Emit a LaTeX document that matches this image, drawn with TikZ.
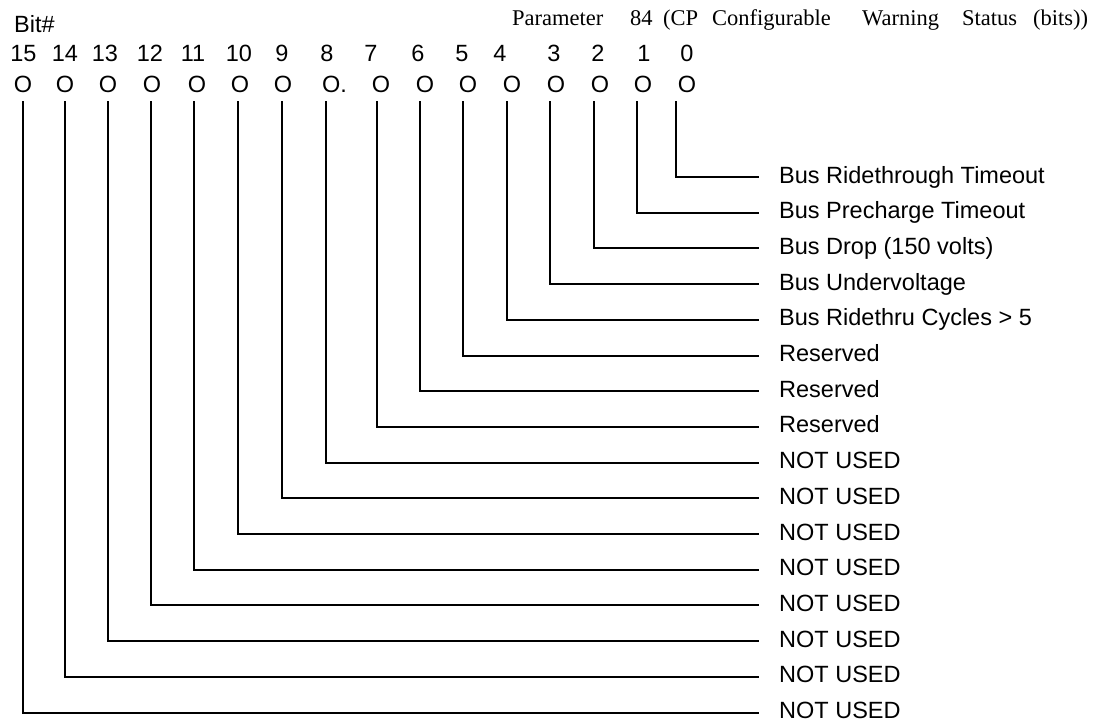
\documentclass[tikz,border=0pt]{standalone}
\usepackage{fontspec}
\setmainfont{Liberation Sans}
\newfontfamily\serifhdr{Liberation Serif}
\begin{document}
\begin{tikzpicture}[x=1pt,y=-1pt,
  sanstext/.style={font=\fontsize{23.5}{28}\selectfont, inner sep=0pt, anchor=base},
  labeltext/.style={font=\fontsize{23.5}{28}\selectfont, inner sep=0pt, anchor=base west},
  hdrtext/.style={font=\serifhdr\fontsize{22.5}{27}\selectfont, inner sep=0pt, anchor=base west},
  wire/.style={line width=2pt, line cap=rect}]
\useasboundingbox (0,0) rectangle (1093,723);
% header
\node[sanstext, anchor=base west] (bit) at (14,32) {Bit\#};
\node[hdrtext] (h1) at (512,25) {Parameter};
\node[hdrtext] (h2) at (630,25) {84};
\node[hdrtext] (h3) at (663,25) {(CP};
\node[hdrtext] (h4) at (712,25) {Configurable};
\node[hdrtext] (h5) at (862,25) {Warning};
\node[hdrtext] (h6) at (962,25) {Status};
\node[hdrtext] (h7) at (1033,25) {(bits))};
% bit numbers
\foreach \k/\x in {15/23.5,14/65,13/105,12/150,11/193,10/239,9/282,8/327,7/371,6/418,5/462,4/500,3/554,2/598,1/644,0/687}
  \node[sanstext] (n\k) at (\x,61) {\k};
% O marks
\foreach \k/\x in {15/23,14/65,13/108,12/152,11/197,10/240,9/283,7/381,6/425,5/468,4/512,3/556,2/600,1/643,0/687}
  \node[sanstext] (o\k) at (\x,92) {O};
\node[sanstext, anchor=base west] (o8) at (322,92) {O.};
% lines and labels
\foreach \k/\x/\t in {0/676/Bus Ridethrough Timeout,1/637/Bus Precharge Timeout,2/594/Bus Drop (150 volts),3/550/Bus Undervoltage,4/507/Bus Ridethru Cycles > 5,5/463/Reserved,6/420/Reserved,7/377/Reserved,8/326/NOT USED,9/282/NOT USED,10/238/NOT USED,11/194/NOT USED,12/151/NOT USED,13/108/NOT USED,14/65/NOT USED,15/23/NOT USED}{
  \pgfmathsetmacro{\yy}{177+35.7*\k}
  \coordinate (t\k) at (\x,102);
  \coordinate (e\k) at (758,\yy);
  \node[labeltext] (l\k) at (779,\yy+6) {\t};
  \draw[wire] (t\k) |- (e\k);
}
\end{tikzpicture}
\end{document}
